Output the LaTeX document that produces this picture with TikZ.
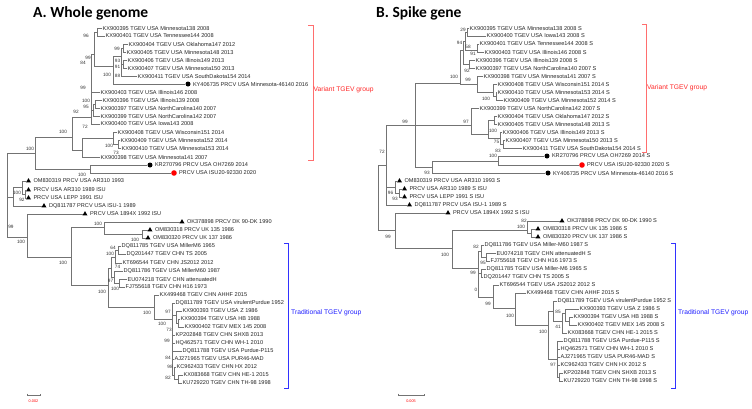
\documentclass[tikz,border=0pt]{standalone}
\usepackage{fontspec}
\setmainfont{Liberation Sans}
\newfontfamily\titlefont{Carlito}
\usetikzlibrary{shapes.geometric}
\definecolor{grpred}{RGB}{255,40,40}
\definecolor{brred}{RGB}{255,110,110}
\definecolor{grpblue}{RGB}{30,30,255}
\definecolor{brblue}{RGB}{50,50,255}
\newcommand{\edg}[2]{\draw[br] (#1) |- (#2);}
\newcommand{\leafA}[5]{\node[leaf] (#2) at (#3,#4) {#5};\draw[br] (#1) |- (#2.west);}
\newcommand{\leafM}[6]{\node[#5] (#2m) at ({#3+2.5},#4) {};\node[leaf] (#2) at ({#3+6.8},#4) {#6};\draw[br] (#1) |- (#2m.west);}
\newcommand{\bsv}[4]{\node[bsl] (#1) at (#2,#3) {#4};}
\begin{document}
\begin{tikzpicture}[x=1pt,y=-1pt,
  br/.style={draw=black!55,line width=0.65pt},
  leaf/.style={anchor=west,inner sep=0.5pt,font=\fontsize{5.6}{6}\selectfont,text=black!85},
  bsl/.style={inner sep=0pt,font=\fontsize{4.7}{5}\selectfont,text=black!80},
  tri/.style={regular polygon,regular polygon sides=3,fill=black,draw=none,inner sep=0pt,minimum size=5.8pt},
  bdot/.style={circle,fill=black,draw=none,inner sep=0pt,minimum size=5pt},
  rdot/.style={circle,fill=red,draw=none,inner sep=0pt,minimum size=5.6pt},
  grp/.style={anchor=west,inner sep=0pt,font=\fontsize{6.7}{7}\selectfont},
  ttl/.style={anchor=base west,inner sep=0pt,font=\titlefont\bfseries\fontsize{15.5}{16}\selectfont}]
\fill[white] (0,0) rectangle (752,408);
\useasboundingbox (0,0) rectangle (752,408);
% titles
\node[ttl] (tA) at (33,17) {A. Whole genome};
\node[ttl] (tB) at (376,17) {B. Spike gene};
% ================= LEFT TREE =================
\coordinate (LR) at (7,195);
\coordinate (N1) at (35,153);
\coordinate (N3) at (13,197);
\coordinate (N2) at (27,237);
\coordinate (V0) at (72,137);
\coordinate (NKR) at (90,169);
\coordinate (VA) at (91,117);
\coordinate (VB) at (82,150);
\coordinate (A99) at (94,54);
\coordinate (A95) at (93,110);
\coordinate (A100) at (95,104);
\coordinate (N395) at (97,32);
\coordinate (U1) at (113,66);
\coordinate (U2) at (121,56);
\coordinate (U3) at (123,48);
\coordinate (U4) at (123,64);
\coordinate (W1) at (113,138);
\coordinate (W2) at (118,144);
\coordinate (N4) at (22,187);
\coordinate (N5) at (25,194);
\coordinate (N6) at (71,257);
\coordinate (N7) at (104,227);
\coordinate (N9) at (142,234);
\coordinate (N8) at (108,268);
\coordinate (N10) at (111,268);
\coordinate (N14) at (115,257);
\coordinate (N12) at (118,250);
\coordinate (N16) at (114,277);
\coordinate (N17) at (119,283);
\coordinate (N11) at (154,307);
\coordinate (N15) at (172,319);
\coordinate (P1) at (176,315);
\coordinate (P2) at (178,323);
\coordinate (P3) at (174.5,375);
\coordinate (P4) at (178,379);
\edg{LR}{N1}\edg{LR}{N3}\edg{LR}{N2}
\edg{N1}{V0}\edg{N1}{NKR}
\edg{V0}{VA}\edg{V0}{VB}
\edg{VA}{A99}\edg{VA}{A95}
\edg{A99}{N395}\edg{A99}{U1}
\edg{U1}{U2}\edg{U2}{U3}\edg{U2}{U4}
\edg{A95}{A100}
\edg{VB}{W1}\edg{W1}{W2}
\edg{N3}{N4}\edg{N4}{N5}
\edg{N2}{N6}\edg{N6}{N7}\edg{N7}{N9}
\draw[br] (N6) |- (108,285) -- (108,268);
\edg{N8}{N10}\edg{N8}{N11}
\edg{N10}{N14}\edg{N14}{N12}\edg{N10}{N16}\edg{N16}{N17}
\edg{N11}{N15}\edg{N15}{P1}\edg{P1}{P2}\edg{N15}{P3}\edg{P3}{P4}
% leaves
\leafA{N395}{L1}{102}{28}{KX900395 TGEV USA Minnesota138 2008}
\leafA{N395}{L2}{105}{36}{KX900401 TGEV USA Tennessee144 2008}
\leafA{U3}{L3}{128}{44}{KX900404 TGEV USA Oklahoma147 2012}
\leafA{U3}{L4}{126}{52}{KX900405 TGEV USA Minnesota148 2013}
\leafA{U4}{L5}{127}{60}{KX900406 TGEV USA Illinois149 2013}
\leafA{U4}{L6}{127}{68}{KX900407 TGEV USA Minnesota150 2013}
\leafA{U2}{L7}{137}{76}{KX900411 TGEV USA SouthDakota154 2014}
\leafM{U1}{L8}{185.5}{84}{bdot}{KY406735 PRCV USA Minnesota-46140 2016}
\leafA{VA}{L9}{100}{92}{KX900403 TGEV USA Illinois146 2008}
\leafA{A100}{L10}{102}{100}{KX900396 TGEV USA Illinois139 2008}
\leafA{A100}{L11}{100}{108}{KX900397 TGEV USA NorthCarolina140 2007}
\leafA{A95}{L12}{100}{116}{KX900399 TGEV USA NorthCarolina142 2007}
\leafA{VA}{L13}{100}{124}{KX900400 TGEV USA Iowa143 2008}
\leafA{W1}{L14}{117}{132}{KX900408 TGEV USA Wisconsin151 2014}
\leafA{W2}{L15}{120}{140}{KX900409 TGEV USA Minnesota152 2014}
\leafA{W2}{L16}{121}{148}{KX900410 TGEV USA Minnesota153 2014}
\leafA{VB}{L17}{100}{157}{KX900398 TGEV USA Minnesota141 2007}
\leafM{NKR}{L18}{147.5}{165}{bdot}{KR270796 PRCV USA OH7269 2014}
\leafM{NKR}{L19}{171.5}{173}{rdot}{PRCV USA ISU20-92330 2020}
\leafM{N4}{L20}{26}{181}{tri}{OM830319 PRCV USA AR310 1993}
\leafM{N5}{L21}{26}{190}{tri}{PRCV USA AR310 1989 ISU}
\leafM{N5}{L22}{26}{198}{tri}{PRCV USA LEPP 1991 ISU}
\leafM{N3}{L23}{41.5}{206}{tri}{DQ811787 PRCV USA ISU-1 1989}
\leafM{N2}{L24}{82.5}{214}{tri}{PRCV USA 1894X 1992 ISU}
\leafM{N7}{L25}{179.5}{222}{tri}{OK378898 PRCV DK 90-DK 1990}
\leafM{N9}{L26}{147.5}{230}{tri}{OM830318 PRCV UK 135 1986}
\leafM{N9}{L27}{145.5}{238}{tri}{OM830320 PRCV UK 137 1986}
\leafA{N12}{L28}{121}{246}{DQ811785 TGEV USA MillerM6 1965}
\leafA{N12}{L29}{126}{254}{DQ201447 TGEV CHN TS 2005}
\leafA{N14}{L30}{122}{263}{KT696544 TGEV CHN JS2012 2012}
\leafA{N16}{L31}{123}{271}{DQ811786 TGEV USA MillerM60 1987}
\leafA{N17}{L32}{127}{279}{EU074218 TGEV CHN attenuatedH}
\leafA{N17}{L33}{125}{287}{FJ755618 TGEV CHN H16 1973}
\leafA{N11}{L34}{159}{295}{KX499468 TGEV CHN AHHF 2015}
\leafA{N15}{L35}{175}{303}{DQ811789 TGEV USA virulentPurdue 1952}
\leafA{P1}{L36}{182}{311}{KX900393 TGEV USA Z 1986}
\leafA{P2}{L37}{180}{319}{KX900394 TGEV USA HB 1988}
\leafA{P2}{L38}{184}{327}{KX900402 TGEV MEX 145 2008}
\leafA{N15}{L39}{175}{335}{KP202848 TGEV CHN SHXB 2013}
\leafA{N15}{L40}{175}{343}{HQ462571 TGEV CHN WH-1 2010}
\leafA{N15}{L41}{182}{351}{DQ811788 TGEV USA Purdue-P115}
\leafA{N15}{L42}{174}{359}{AJ271965 TGEV USA PUR46-MAD}
\leafA{P3}{L43}{176}{367}{KC962433 TGEV CHN HX 2012}
\leafA{P4}{L44}{183}{375}{KX083668 TGEV CHN HE-1 2015}
\leafA{P4}{L45}{182}{383}{KU729220 TGEV CHN TH-98 1998}
% bootstrap left
\bsv{a1}{86}{36}{96}
\bsv{a2}{117}{49}{99}
\bsv{a3}{88}{58}{99}
\bsv{a4}{83}{63}{84}
\bsv{a5}{117.5}{61}{93}
\bsv{a6}{117.5}{67}{91}
\bsv{a7}{107}{75}{100}
\bsv{a8}{117.5}{76}{88}
\bsv{a9}{83}{88}{99}
\bsv{a10}{86}{101}{100}
\bsv{a11}{86}{107}{95}
\bsv{a12}{76}{112}{92}
\bsv{a13}{85}{127}{72}
\bsv{a14}{63}{132}{100}
\bsv{a15}{109}{146}{100}
\bsv{a16}{116}{153}{73}
\bsv{a17}{30}{149}{100}
\bsv{a18}{82}{175}{100}
\bsv{a19}{17}{193}{100}
\bsv{a20}{22}{200}{92}
\bsv{a21}{11}{227}{99}
\bsv{a22}{21}{242}{100}
\bsv{a23}{98}{224}{100}
\bsv{a24}{135}{240}{100}
\bsv{a25}{63}{263}{100}
\bsv{a26}{113}{248}{64}
\bsv{a27}{110}{254}{100}
\bsv{a28}{117.5}{266.5}{74}
\bsv{a29}{110.5}{281}{97}
\bsv{a30}{115}{289}{100}
\bsv{a31}{102}{292}{100}
\bsv{a32}{147}{313}{100}
\bsv{a33}{168}{312}{97}
\bsv{a34}{162}{324}{100}
\bsv{a35}{169}{330}{73}
\bsv{a36}{167}{341}{99}
\bsv{a37}{168}{358}{84}
\bsv{a38}{170}{367}{98}
\bsv{a39}{168}{378}{82}
% ================= RIGHT TREE =================
\coordinate (Rr) at (378,197);
\coordinate (RA) at (386,165);
\coordinate (RB) at (395,230);
\coordinate (RV) at (415,125);
\coordinate (ROM) at (395,187);
\coordinate (ROM2) at (399,193);
\coordinate (UV) at (460,83);
\coordinate (UVa) at (463,50);
\coordinate (N94) at (465,41);
\coordinate (N29) at (467.5,32);
\coordinate (N91) at (477,50);
\coordinate (T4) at (469,64);
\coordinate (UVb) at (477,84);
\coordinate (T5) at (493,92);
\coordinate (T6) at (496,96);
\coordinate (LV) at (471,125);
\coordinate (LV2) at (488,134);
\coordinate (LV3) at (494,120);
\coordinate (LV4) at (500,138);
\coordinate (LV5) at (503,144);
\coordinate (RP) at (432,167);
\coordinate (RKR) at (498,161);
\coordinate (RL0) at (452,248);
\coordinate (RL1) at (527,230);
\coordinate (RLom) at (531,233);
\coordinate (RL2) at (478,268);
\coordinate (RL3) at (481,251);
\coordinate (RL3b) at (486,257);
\coordinate (RL4) at (481,273);
\coordinate (RL5) at (493,297);
\coordinate (RL6) at (515,308);
\coordinate (RL7) at (548,325);
\coordinate (RL8) at (553,311);
\coordinate (RL9) at (557,359);
\coordinate (RL10) at (562,321);
\coordinate (RL11) at (565,313);
\coordinate (RL12) at (569,321);
\coordinate (RL13) at (559,377);
\edg{Rr}{RA}\edg{Rr}{RB}
\edg{RA}{RV}\edg{RA}{ROM}\edg{ROM}{ROM2}
\edg{RV}{UV}\edg{RV}{LV}\edg{RV}{RP}
\edg{UV}{UVa}\edg{UV}{UVb}
\edg{UVa}{N94}\edg{UVa}{T4}\edg{N94}{N29}\edg{N94}{N91}
\edg{UVb}{T5}\edg{T5}{T6}
\edg{LV}{LV2}\edg{LV2}{LV3}\edg{LV2}{LV4}\edg{LV4}{LV5}
\edg{RP}{RKR}
\edg{RB}{RL0}\edg{RL0}{RL1}\edg{RL0}{RL2}\edg{RL1}{RLom}
\edg{RL2}{RL3}\edg{RL2}{RL4}\edg{RL2}{RL5}\edg{RL3}{RL3b}
\edg{RL5}{RL6}\edg{RL6}{RL7}\edg{RL7}{RL8}\edg{RL7}{RL9}
\edg{RL8}{RL10}\edg{RL10}{RL11}\edg{RL11}{RL12}\edg{RL9}{RL13}
\leafA{N29}{R1}{469}{28}{KX900395 TGEV USA Minnesota138 2008 S}
\leafA{N29}{R2}{486}{36}{KX900400 TGEV USA Iowa143 2008 S}
\leafA{N91}{R3}{479}{44}{KX900401 TGEV USA Tennessee144 2008 S}
\leafA{N91}{R4}{484}{52}{KX900403 TGEV USA Illinois146 2008 S}
\leafA{T4}{R5}{475}{60}{KX900396 TGEV USA Illinois139 2008 S}
\leafA{T4}{R6}{475}{68}{KX900397 TGEV USA NorthCarolina140 2007 S}
\leafA{UVb}{R7}{483}{76}{KX900398 TGEV USA Minnesota141 2007 S}
\leafA{T5}{R8}{497}{84}{KX900408 TGEV USA Wisconsin151 2014 S}
\leafA{T6}{R9}{497}{92}{KX900410 TGEV USA Minnesota153 2014 S}
\leafA{T6}{R10}{503}{100}{KX900409 TGEV USA Minnesota152 2014 S}
\leafA{LV}{R11}{479}{108}{KX900399 TGEV USA NorthCarolina142 2007 S}
\leafA{LV3}{R12}{497}{116}{KX900404 TGEV USA Oklahoma147 2012 S}
\leafA{LV3}{R13}{497}{124}{KX900405 TGEV USA Minnesota148 2013 S}
\leafA{LV4}{R14}{502}{132}{KX900406 TGEV USA Illinois149 2013 S}
\leafA{LV5}{R15}{505}{140}{KX900407 TGEV USA Minnesota150 2013 S}
\leafA{LV5}{R16}{522}{148}{KX900411 TGEV USA SouthDakota154 2014 S}
\leafM{RKR}{R17}{544.5}{156}{bdot}{KR270796 PRCV USA OH7269 2014 S}
\leafM{RKR}{R18}{579.5}{165}{rdot}{PRCV USA ISU20-92330 2020 S}
\leafM{RP}{R19}{545.5}{173}{bdot}{KY406735 PRCV USA Minnesota-46140 2016 S}
\leafM{ROM}{R20}{397}{181}{tri}{OM830319 PRCV USA AR310 1993 S}
\leafM{ROM2}{R21}{402}{189}{tri}{PRCV USA AR310 1989 S ISU}
\leafM{ROM2}{R22}{402}{197}{tri}{PRCV USA LEPP 1991 S ISU}
\leafM{RA}{R23}{407}{205}{tri}{DQ811787 PRCV USA ISU-1 1989 S}
\leafM{RB}{R24}{445.5}{213}{tri}{PRCV USA 1894X 1992 S ISU}
\leafM{RL1}{R25}{559.5}{221}{tri}{OK378898 PRCV DK 90-DK 1990 S}
\leafM{RLom}{R26}{535.5}{229}{tri}{OM830318 PRCV UK 135 1986 S}
\leafM{RLom}{R27}{535.5}{237}{tri}{OM830320 PRCV UK 137 1986 S}
\leafA{RL3}{R28}{484}{245}{DQ811786 TGEV USA Miller-M60 1987 S}
\leafA{RL3b}{R29}{496}{253}{EU074218 TGEV CHN attenuatedH S}
\leafA{RL3b}{R30}{490}{261}{FJ755618 TGEV CHN H16 1973 S}
\leafA{RL4}{R31}{486}{269}{DQ811785 TGEV USA Miller-M6 1965 S}
\leafA{RL4}{R32}{483}{277}{DQ201447 TGEV CHN TS 2005 S}
\leafA{RL5}{R33}{499}{285}{KT696544 TGEV USA JS2012 2012 S}
\leafA{RL6}{R34}{526}{293}{KX499468 TGEV CHN AHHF 2015 S}
\leafA{RL8}{R35}{557}{301}{DQ811789 TGEV USA virulentPurdue 1952 S}
\leafA{RL11}{R36}{579}{309}{KX900393 TGEV USA Z 1986 S}
\leafA{RL12}{R37}{573}{317}{KX900394 TGEV USA HB 1988 S}
\leafA{RL12}{R38}{577}{325}{KX900402 TGEV MEX 145 2008 S}
\leafA{RL10}{R39}{567}{333}{KX083668 TGEV CHN HE-1 2015 S}
\leafA{RL9}{R40}{563}{341}{DQ811788 TGEV USA Purdue-P115 S}
\leafA{RL9}{R41}{560}{349}{HQ462571 TGEV CHN WH-1 2010 S}
\leafA{RL9}{R42}{560}{357}{AJ271965 TGEV USA PUR46-MAD S}
\leafA{RL9}{R43}{560}{365}{KC962433 TGEV CHN HX 2012 S}
\leafA{RL13}{R44}{563}{373}{KP202848 TGEV CHN SHXB 2013 S}
\leafA{RL13}{R45}{563}{381}{KU729220 TGEV CHN TH-98 1998 S}
% bootstrap right
\bsv{b1}{463}{30}{29}
\bsv{b2}{459.5}{43}{94}
\bsv{b3}{468}{47}{58}
\bsv{b4}{473}{53.5}{91}
\bsv{b5}{467}{70.5}{92}
\bsv{b6}{454}{77}{100}
\bsv{b7}{468}{80}{99}
\bsv{b8}{486}{99}{100}
\bsv{b9}{405}{122}{99}
\bsv{b10}{466}{122}{97}
\bsv{b11}{493}{131}{100}
\bsv{b12}{496.5}{142}{75}
\bsv{b13}{498}{151}{83}
\bsv{b14}{493}{156}{100}
\bsv{b15}{427}{173}{93}
\bsv{b16}{382}{152}{72}
\bsv{b17}{390.5}{193}{96}
\bsv{b18}{395}{199}{93}
\bsv{b19}{388}{237}{99}
\bsv{b20}{445}{255}{100}
\bsv{b21}{524}{221}{82}
\bsv{b22}{521}{227}{100}
\bsv{b23}{476}{247}{82}
\bsv{b24}{483}{263}{95}
\bsv{b25}{473}{273}{99}
\bsv{b26}{476}{290}{0}
\bsv{b27}{488}{304}{99}
\bsv{b28}{510}{316}{100}
\bsv{b29}{543}{332}{100}
\bsv{b30}{558}{312}{85}
\bsv{b31}{558}{327}{41}
\bsv{b32}{553}{365}{97}
% ================= GROUP BRACKETS =================
\draw[brred,line width=0.8pt] (308,25) -- (313,25) -- (313,160) -- (308,160);
\node[grp,text=grpred] (gA1) at (313.5,90) {Variant TGEV group};
\draw[brblue,line width=0.8pt] (284,243) -- (288,243) -- (288,388) -- (284,388);
\node[grp,text=grpblue] (gA2) at (291,313) {Traditional TGEV group};
\draw[brred,line width=0.8pt] (642,24) -- (646,24) -- (646,152) -- (642,152);
\node[grp,text=grpred] (gB1) at (647,88) {Variant TGEV group};
\draw[brblue,line width=0.8pt] (671,243) -- (675,243) -- (675,388) -- (671,388);
\node[grp,text=grpblue] (gB2) at (678,313) {Traditional TGEV group};
% ================= SCALE BARS =================
\draw[br,line width=0.5pt] (27,393.5) -- (27,395) -- (40,395) -- (40,393.5);
\node[inner sep=0pt,font=\fontsize{3.8}{4}\selectfont,text=red] (sA) at (33.5,401.5) {0.002};
\draw[br,line width=0.5pt] (398,393.5) -- (398,395) -- (424,395) -- (424,393.5);
\node[inner sep=0pt,font=\fontsize{3.8}{4}\selectfont,text=red] (sB) at (411,401.5) {0.005};
\end{tikzpicture}
\end{document}
